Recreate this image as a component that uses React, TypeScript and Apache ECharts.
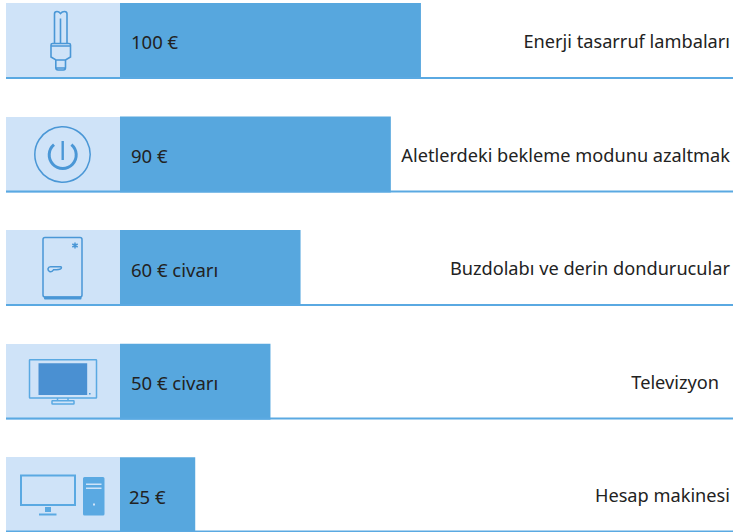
import React, { useEffect, useRef } from "react";
import * as echarts from "echarts";

const categories = [
  "Enerji tasarruf lambaları",
  "Aletlerdeki bekleme modunu azaltmak",
  "Buzdolabı ve derin dondurucular",
  "Televizyon",
  "Hesap makinesi",
];
const values = [100, 90, 60, 50, 25];
const valueLabels = ["100 €", "90 €", "60 € civarı", "50 € civarı", "25 €"];

const BAR = "#57a7de";
const PANEL = "#cfe3f8";
const LINE = "#5aa9e2";
const ICON = "#4a97d6";
const FONT = "'Noto Sans', sans-serif";
const SHIFT = 16;

const panelTops = [3, 117, 230, 344, 457];
const lineYs = [78, 191.5, 305, 418.5, 531.5];

const BULB =
  "M54.5 43V14Q54.5 11.5 57 11.5Q59 11.5 60.5 13.5Q62 11.5 64.5 11.5Q67 11.5 67 14V43 M60.5 18.5V43 M52.5 43.5H69Q70.5 43.5 70.5 45V57L65.5 60H56L51 57V45Q51 43.5 52.5 43.5 M51 46H70.5 M55.8 60V67.5Q55.8 70 58 70H63.5Q65.5 70 65.5 67.5V60 M56 68H65.5";
const POWER_ARC = "M54 144.6A13.5 13.5 0 1 0 71.4 144.6";
const FRIDGE =
  "M45 237.5H80Q82 237.5 82 239.5V295Q82 297 80 297H45Q43 297 43 295V239.5Q43 237.5 45 237.5 M50.5 266.8H60.5Q62 266.8 61 268.5Q60 269.8 53.5 269.8Q52 272 50 271.7Q47.8 271 48 268.8Q48.5 266.8 50.5 266.8 M75 242.5V248.5 M72.3 244L77.7 247 M77.7 244L72.3 247";
const TV =
  "M30 359.7H96Q96.5 359.7 96.5 360.2V397.5Q96.5 398 96 398H30Q29.5 398 29.5 397.5V360.2Q29.5 359.7 30 359.7 M57.5 398V400.8 M68 398V400.8 M52.5 400.8H73.5Q74 400.8 74 401.3V403.5Q74 404 73.5 404H52.5Q52 404 52 403.5V401.3Q52 400.8 52.5 400.8";

echarts.graphic.registerShape("bulbIcon", echarts.graphic.extendPath(BULB, {}));
echarts.graphic.registerShape("powerArc", echarts.graphic.extendPath(POWER_ARC, {}));
echarts.graphic.registerShape("fridgeIcon", echarts.graphic.extendPath(FRIDGE, {}));
echarts.graphic.registerShape("tvIcon", echarts.graphic.extendPath(TV, {}));

const outline = (lineWidth: number, stroke = ICON) => ({ fill: "none", stroke, lineWidth });

const iconElements: any[] = [
  { type: "bulbIcon", x: 0, y: 0, z: 20, style: outline(1.6) },
  { type: "circle", z: 20, shape: { cx: 62.5, cy: 154.5, r: 27.7 }, style: outline(1.5) },
  { type: "powerArc", x: 0, y: 0, z: 20, style: outline(3) },
  { type: "line", z: 20, shape: { x1: 62.7, y1: 141, x2: 62.7, y2: 160 }, style: { stroke: ICON, lineWidth: 2.4 } },
  { type: "fridgeIcon", x: 0, y: 0, z: 20, style: outline(1.5) },
  { type: "rect", z: 20, shape: { x: 44, y: 296.5, width: 37.5, height: 3, r: 1 }, style: { fill: ICON } },
  { type: "tvIcon", x: 0, y: 0, z: 20, style: outline(1.5, LINE) },
  { type: "rect", z: 20, shape: { x: 38.5, y: 363.3, width: 48.7, height: 31.7 }, style: { fill: "#4a90d2" } },
  { type: "rect", z: 20, shape: { x: 89, y: 393, width: 1.6, height: 1.6 }, style: { fill: ICON } },
  { type: "rect", z: 20, shape: { x: 21, y: 475.5, width: 54, height: 29.5 }, style: outline(2, LINE) },
  { type: "rect", z: 20, shape: { x: 45, y: 507, width: 6, height: 5 }, style: { fill: LINE } },
  { type: "rect", z: 20, shape: { x: 39, y: 513.5, width: 17.5, height: 2 }, style: { fill: LINE } },
  { type: "rect", z: 20, shape: { x: 83, y: 477, width: 21.5, height: 38.5, r: 1.5 }, style: { fill: LINE } },
  { type: "rect", z: 20, shape: { x: 86, y: 483.5, width: 15.5, height: 1.5 }, style: { fill: PANEL } },
  { type: "rect", z: 20, shape: { x: 86, y: 487.5, width: 15.5, height: 1.5 }, style: { fill: PANEL } },
  { type: "rect", z: 20, shape: { x: 93, y: 503.5, width: 2, height: 2 }, style: { fill: PANEL } },
];

const panelElements = panelTops.map((y) => ({
  type: "rect",
  z: 1,
  shape: { x: 6, y, width: 114, height: 76 },
  style: { fill: PANEL },
}));
const lineElements = lineYs.map((y) => ({
  type: "rect",
  z: 10,
  shape: { x: 6, y: y - 1, width: 727, height: 2 },
  style: { fill: LINE },
}));

export default function App() {
  const ref = useRef<HTMLDivElement>(null);
  useEffect(() => {
    document.body.style.margin = "0";
    const chart = echarts.init(ref.current!, undefined, { renderer: "svg" });
    chart.setOption({
      animation: false,
      backgroundColor: "#ffffff",
      grid: { left: 120, right: 0, top: 0.2, height: 568 },
      xAxis: { type: "value", min: 0, max: 202.7, show: false },
      yAxis: {
        type: "category",
        inverse: true,
        position: "right",
        data: categories.map((value, i) =>
          i === 3 ? { value, textStyle: { padding: [0, 11, 0, 0] } } : value
        ),
        axisLine: { show: false },
        axisTick: { show: false },
        splitLine: { show: false },
        axisLabel: {
          inside: true,
          interval: 0,
          margin: 0,
          align: "right",
          color: "#222222",
          fontFamily: FONT,
          fontSize: 18.2,
        },
      },
      graphic: {
        elements: [
          {
            type: "group",
            x: 0,
            y: SHIFT,
            children: [...panelElements, ...lineElements, ...iconElements],
          },
        ],
      },
      series: [
        {
          type: "bar",
          z: 5,
          barWidth: 76,
          data: values.map((value, i) => ({
            value,
            label: { distance: i === 4 ? 9 : 11 },
          })),
          itemStyle: { color: BAR },
          label: {
            show: true,
            position: "insideLeft",
            color: "#222222",
            fontFamily: FONT,
            fontSize: 18.5,
            offset: [0, 1],
            formatter: (p: any) => valueLabels[p.dataIndex],
          },
        },
      ],
    });
    return () => chart.dispose();
  }, []);
  return (
    <div style={{ position: "relative", width: 733, height: 532, overflow: "hidden" }}>
      <div ref={ref} style={{ position: "absolute", left: 0, top: -SHIFT, width: 733, height: 568 }} />
    </div>
  );
}
